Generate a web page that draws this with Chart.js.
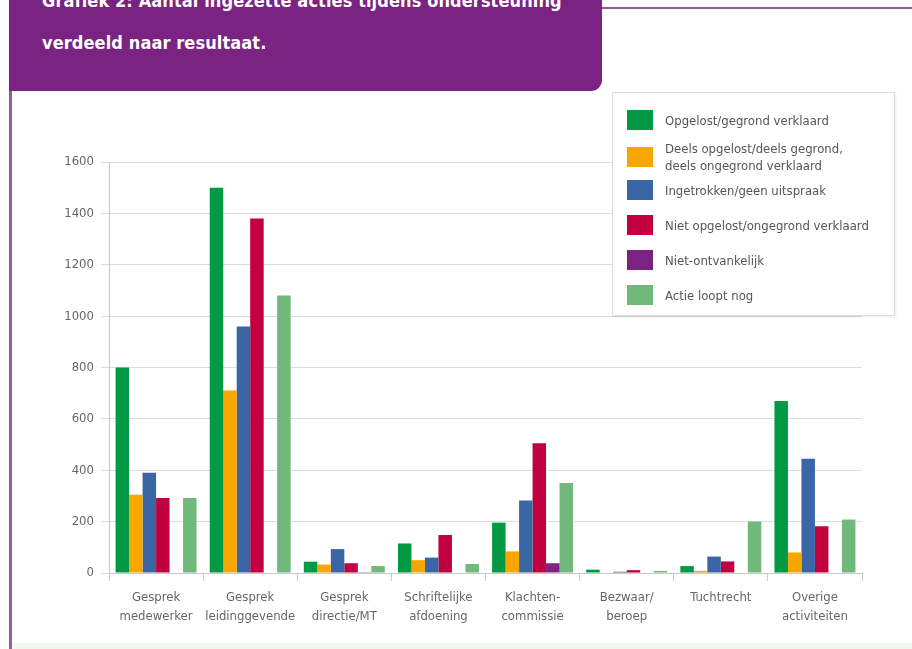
<!DOCTYPE html>
<html>
<head>
<meta charset="utf-8">
<script src="https://cdn.jsdelivr.net/npm/chart.js@4/dist/chart.umd.min.js"></script>
<style>
  html, body { margin: 0; padding: 0; background: #fff; }
  body { width: 912px; height: 649px; position: relative; overflow: hidden; font-family: "DejaVu Sans Condensed", "DejaVu Sans", sans-serif; }
  .frame-left { position: absolute; left: 9px; top: 80px; width: 3px; height: 569px; background: #9a5aa3; }
  .frame-top { position: absolute; left: 590px; top: 7px; width: 322px; height: 2px; background: #9a5aa3; }
  .band { position: absolute; left: 12px; top: 643px; width: 900px; height: 6px; background: #f2f9ec; }
  .header { position: absolute; left: 9px; top: 0; width: 593px; height: 91px; background: #7b2382; border-bottom-right-radius: 11px; }
  .header h1 { margin: 0; position: absolute; left: 33px; top: -20px; color: #fff; font-size: 18px; font-weight: bold; line-height: 42px; letter-spacing: 0.1px; }
  #chartWrap { position: absolute; left: 0; top: 0; width: 912px; height: 649px; }
  .legend { position: absolute; left: 612px; top: 92px; width: 283px; height: 224px; background: #fff; border: 1px solid #ddd; box-shadow: 1px 1px 2px rgba(0,0,0,0.08); box-sizing: border-box; }
  .legend .item { position: absolute; left: 14px; display: flex; align-items: center; }
  .legend .sw { width: 26px; height: 20px; flex: none; }
  .legend .lbl { margin-left: 12px; font-size: 13px; color: #555; line-height: 17px; }
</style>
</head>
<body>
<div class="frame-left"></div>
<div class="frame-top"></div>
<div class="band"></div>
<div id="chartWrap"><canvas id="resultChart" width="912" height="649"></canvas></div>
<div class="header"><h1>Grafiek 2: Aantal ingezette acties tijdens ondersteuning<br>verdeeld naar resultaat.</h1></div>
<div class="legend" id="legend"></div>
<script>
const categories = [
  ['Gesprek', 'medewerker'],
  ['Gesprek', 'leidinggevende'],
  ['Gesprek', 'directie/MT'],
  ['Schriftelijke', 'afdoening'],
  ['Klachten-', 'commissie'],
  ['Bezwaar/', 'beroep'],
  ['Tuchtrecht'],
  ['Overige', 'activiteiten'],
];

const seriesNames = [
  'Opgelost/gegrond verklaard',
  'Deels opgelost/deels gegrond,\ndeels ongegrond verklaard',
  'Ingetrokken/geen uitspraak',
  'Niet opgelost/ongegrond verklaard',
  'Niet-ontvankelijk',
  'Actie loopt nog',
];
const seriesColors = ['#009a44', '#f7a600', '#3b66a6', '#c2003f', '#7b2382', '#70b97a'];

const opgelost      = [800, 1500, 44, 115, 196, 13, 27, 670];
const deelsOpgelost = [305, 710, 33, 50, 84, 2, 8, 80];
const ingetrokken   = [390, 960, 93, 60, 282, 5, 64, 445];
const nietOpgelost  = [292, 1380, 38, 148, 505, 11, 45, 182];
const nietOntvank   = [0, 0, 3, 0, 38, 2, 2, 0];
const loopt         = [292, 1080, 27, 35, 350, 8, 200, 208];
const seriesData = [opgelost, deelsOpgelost, ingetrokken, nietOpgelost, nietOntvank, loopt];

const yTicks = [0, 200, 400, 600, 800, 1000, 1200, 1400, 1600];
const tickFont = '"DejaVu Sans Condensed", "DejaVu Sans", sans-serif';

const ctx = document.getElementById('resultChart').getContext('2d');
const chart = new Chart(ctx, {
  type: 'bar',
  data: {
    labels: categories,
    datasets: seriesData.map((d, i) => ({
      label: seriesNames[i],
      data: d,
      backgroundColor: seriesColors[i],
      borderWidth: 0,
      categoryPercentage: 0.86,
      barPercentage: 1,
    })),
  },
  options: {
    responsive: false,
    animation: false,
    layout: { padding: { top: 162, right: 50, left: 0, bottom: 0 } },
    plugins: { legend: { display: false }, tooltip: { enabled: false } },
    scales: {
      x: {
        grid: { display: true, drawOnChartArea: false, color: '#c8c8c8', tickLength: 8, offset: true },
        border: { color: '#c8c8c8' },
        ticks: { color: '#666', font: { family: tickFont, size: 13, lineHeight: 1.4 }, padding: 8, maxRotation: 0 },
        afterFit: s => { s.height = 76; },
      },
      y: {
        min: 0, max: 1600,
        afterBuildTicks: s => { s.ticks = yTicks.map(v => ({ value: v })); },
        grid: { color: '#dcdcdc', tickLength: 8 },
        border: { color: '#c8c8c8' },
        ticks: { color: '#666', font: { family: tickFont, size: 13 }, padding: 7, callback: v => String(v) },
        afterFit: s => { s.width = 109; },
      },
    },
  },
});

// html legend from datasets
const legendEl = document.getElementById('legend');
const itemTops = [17, 47, 87, 122, 157, 192];
chart.data.datasets.forEach((ds, i) => {
  const it = document.createElement('div');
  it.className = 'item';
  it.style.top = itemTops[i] + 'px';
  it.innerHTML = `<div class="sw" style="background:${ds.backgroundColor}"></div><div class="lbl">${ds.label.replace('\n', '<br>')}</div>`;
  legendEl.appendChild(it);
});
</script>
</body>
</html>
